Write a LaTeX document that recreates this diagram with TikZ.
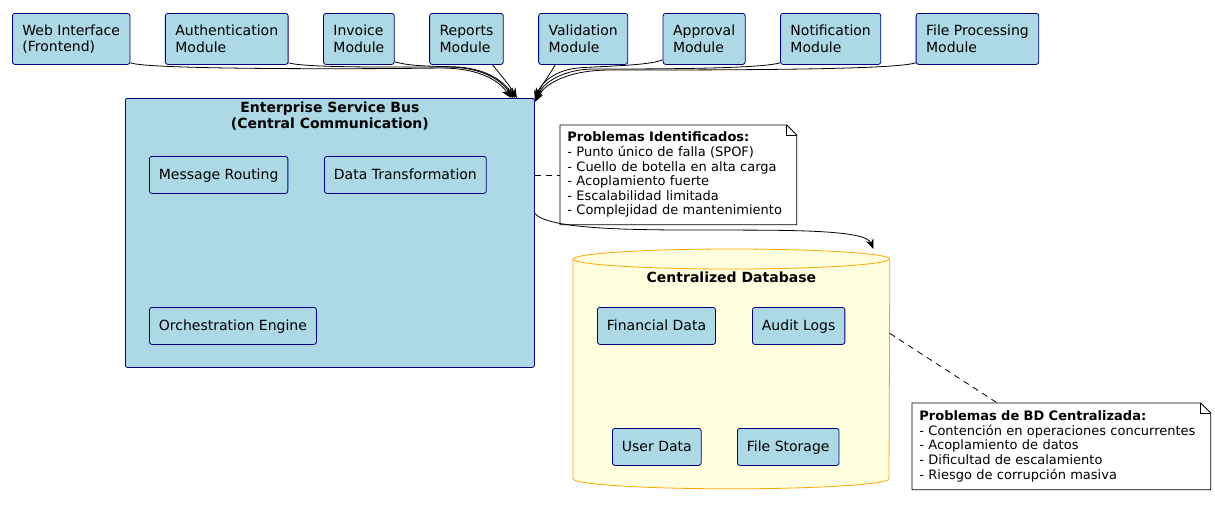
\documentclass[tikz,border=0pt]{standalone}
\usepackage{fontspec}
\setmainfont{DejaVu Sans}
\usetikzlibrary{arrows.meta,positioning,calc}
\definecolor{boxBlue}{HTML}{ADD8E6}
\definecolor{boxEdge}{HTML}{000080}
\definecolor{dbYellow}{HTML}{FFFFE0}
\definecolor{dbOrange}{HTML}{FFA500}

\begin{document}
\begin{tikzpicture}[x=1pt,y=1pt,>={Stealth[length=10pt,width=8pt]},node distance=7mm and 34.5pt,line width=0.8pt,
  modbox/.style={draw=boxEdge,fill=boxBlue,rounded corners=2.5pt,align=left,minimum height=51pt,inner xsep=10pt,font=\fontsize{14}{16.5}\selectfont},
  subbox/.style={draw=boxEdge,fill=boxBlue,rounded corners=2.5pt,minimum height=37pt,inner xsep=9.5pt,text height=11.5pt,text depth=2.5pt,font=\fontsize{14}{16.5}\selectfont},
  notebox/.style={align=left,inner xsep=7pt,inner ysep=5pt,font=\fontsize{13}{14.6}\selectfont},
  flow/.style={->},
  notelink/.style={dash pattern=on 6pt off 5pt}]
\useasboundingbox (0,0) rectangle (1215,-504);

\node[modbox,anchor=north west] (web) at (12,-13) {Web Interface\\(Frontend)};
\node[modbox,right=of web] (auth) {Authentication\\Module};
\node[modbox,right=of auth] (invoice) {Invoice\\Module};
\node[modbox,right=of invoice] (reports) {Reports\\Module};
\node[modbox,right=of reports] (validation) {Validation\\Module};
\node[modbox,right=of validation] (approval) {Approval\\Module};
\node[modbox,right=of approval] (notify) {Notification\\Module};
\node[modbox,right=of notify] (fileproc) {File Processing\\Module};

\node[draw=boxEdge,fill=boxBlue,rounded corners=2pt,minimum width=409pt,minimum height=269pt,anchor=north west] (esb) at (125,-98) {};
\node[font=\bfseries\fontsize{14}{16}\selectfont,align=center,below=0pt of esb.north] (esbtitle) {Enterprise Service Bus\\(Central Communication)};
\node[subbox,anchor=north west] (routing) at (149,-156) {Message Routing};
\node[subbox,anchor=north west] (transform) at (324,-156) {Data Transformation};
\node[subbox,anchor=north west] (orch) at (149,-307) {Orchestration Engine};
\coordinate (busin) at ([xshift=184pt]esb.north);
\coordinate (busin2) at (esb.north east);

\node[notebox,anchor=north west,text width=222pt,minimum height=99pt] (esbnote) at (560,-125) {\textbf{Problemas Identificados:}\\- Punto único de falla (SPOF)\\- Cuello de botella en alta carga\\- Acoplamiento fuerte\\- Escalabilidad limitada\\- Complejidad de mantenimiento};
\draw (esbnote.north west) -- ([xshift=-10pt]esbnote.north east) -- ([yshift=-10pt]esbnote.north east) -- (esbnote.south east) -- (esbnote.south west) -- cycle;
\draw ([xshift=-10pt]esbnote.north east) |- ([yshift=-10pt]esbnote.north east);

\node[minimum width=316pt,minimum height=239pt,anchor=north west,inner sep=0pt] (db) at (573,-249) {};
\draw[draw=dbOrange,fill=dbYellow] ([yshift=-10pt]db.north west) -- ([yshift=10pt]db.south west) arc[start angle=180,end angle=360,x radius=158pt,y radius=10pt] -- ([yshift=-10pt]db.north east) arc[start angle=0,end angle=180,x radius=158pt,y radius=10pt] -- cycle;
\draw[dbOrange] ([yshift=-10pt]db.north west) arc[start angle=180,end angle=360,x radius=158pt,y radius=10pt];
\node[font=\bfseries\fontsize{14}{16}\selectfont,below=19pt of db.north] (dbtitle) {Centralized Database};
\node[subbox,anchor=north west] (fin) at (597,-307) {Financial Data};
\node[subbox,anchor=north west] (audit) at (752,-307) {Audit Logs};
\node[subbox,anchor=north west] (users) at (612,-428) {User Data};
\node[subbox,anchor=north west] (files) at (737,-428) {File Storage};

\node[notebox,anchor=north west,text width=284pt,minimum height=86pt] (dbnote) at (912,-403) {\textbf{Problemas de BD Centralizada:}\\- Contención en operaciones concurrentes\\- Acoplamiento de datos\\- Dificultad de escalamiento\\- Riesgo de corrupción masiva};
\draw (dbnote.north west) -- ([xshift=-10pt]dbnote.north east) -- ([yshift=-10pt]dbnote.north east) -- (dbnote.south east) -- (dbnote.south west) -- cycle;
\draw ([xshift=-10pt]dbnote.north east) |- ([yshift=-10pt]dbnote.north east);

\draw[flow] ([yshift=2pt]web.south east) .. controls (148,-70) and (380,-69) .. (440,-68) .. controls (482,-68) and (500,-82) .. ([xshift=-3pt]busin);
\draw[flow] ([yshift=2pt]auth.south east) .. controls (305,-68) and (400,-67) .. (445,-67) .. controls (484,-67) and (502,-81) .. ([xshift=-1pt]busin);
\draw[flow] ([yshift=3pt]invoice.south east) .. controls (412,-67) and (440,-66) .. (458,-67) .. controls (488,-69) and (504,-82) .. ([xshift=1pt]busin);
\draw[flow] ([xshift=26pt]reports.south) .. controls (500,-74) and (510,-86) .. ([xshift=3pt]busin);
\draw[flow] ([xshift=-28pt]validation.south) .. controls (550,-74) and (540,-88) .. ([xshift=1pt]busin2);
\draw[flow] ([yshift=5pt]approval.south west) .. controls (648,-66) and (600,-66) .. (578,-68) .. controls (556,-70) and (541,-82) .. ([yshift=-2pt]busin2);
\draw[flow] ([yshift=2pt]notify.south west) .. controls (760,-69) and (650,-69) .. (595,-69) .. controls (562,-69) and (543,-83) .. ([yshift=-3pt]busin2);
\draw[flow] ([yshift=2pt]fileproc.south west) .. controls (895,-70) and (720,-70) .. (610,-70) .. controls (566,-70) and (544,-85) .. ([yshift=-4pt]busin2);

\draw[flow] ([yshift=19.5pt]esb.east) .. controls +(27,-32) and +(-13,33) .. ([xshift=142pt]db.north);
\draw[notelink] (esbnote.west -| esb.east) -- (esbnote.west);
\draw[notelink] ([yshift=35.5pt]db.east) -- ([xshift=-64pt]dbnote.north);
\end{tikzpicture}
\end{document}
